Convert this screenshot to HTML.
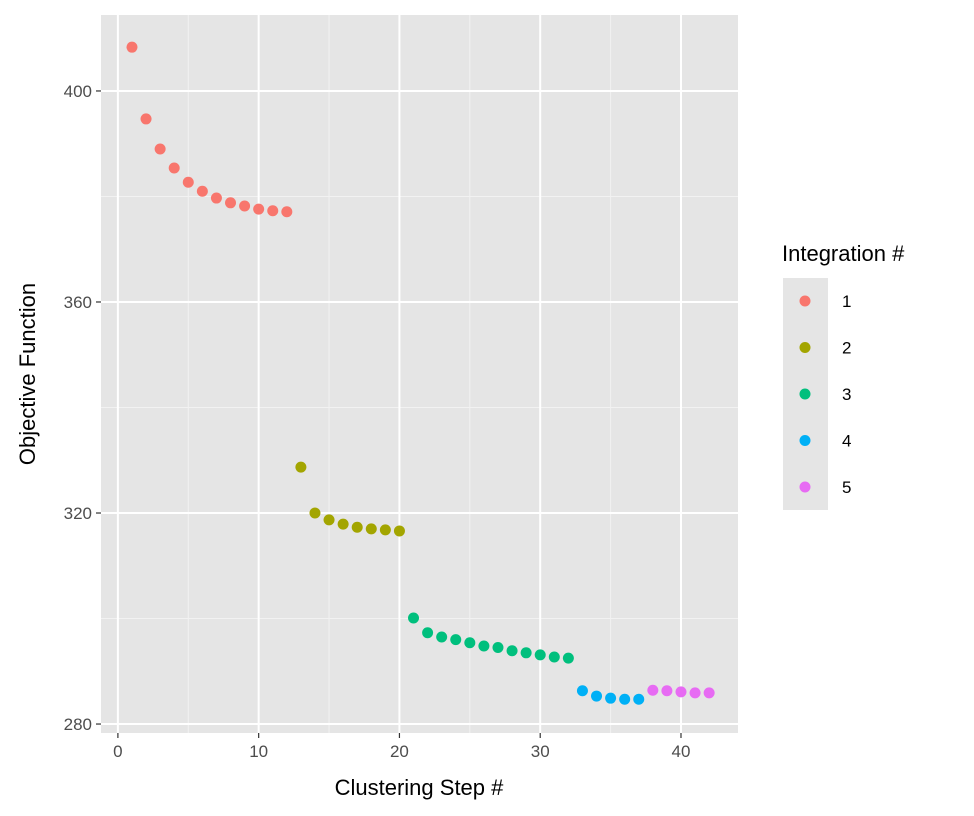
<!DOCTYPE html>
<html><head><meta charset="utf-8"><style>
body{margin:0;background:#fff;}
svg{display:block;font-family:"Liberation Sans",Arial,sans-serif;}
</style></head><body>
<svg id="chart" width="974" height="816" viewBox="0 0 974 816">
<rect x="101" y="15" width="637" height="718" fill="#e5e5e5"/>
<g id="grid"></g>
<g id="points"></g>
<g id="axes"></g>
<text x="419" y="795" font-size="22" text-anchor="middle" fill="#000">Clustering Step #</text>
<text transform="translate(35,374) rotate(-90)" font-size="22" text-anchor="middle" fill="#000">Objective Function</text>
<g id="legend">
<text x="782" y="261" font-size="22" fill="#000">Integration #</text>
<rect x="783" y="278" width="45" height="232" fill="#e5e5e5"/>
</g>
</svg>
<script>
const groups=[1,2,3,4,5];
const colors=["#F8766D","#A3A500","#00BF7D","#00B0F6","#E76BF3"];
const steps=[1,2,3,4,5,6,7,8,9,10,11,12,13,14,15,16,17,18,19,20,21,22,23,24,25,26,27,28,29,30,31,32,33,34,35,36,37,38,39,40,41,42];
const objective=[408.3,394.7,389.0,385.4,382.7,381.0,379.7,378.8,378.2,377.6,377.3,377.1,
328.7,320.0,318.7,317.9,317.3,317.0,316.8,316.6,
300.1,297.3,296.5,296.0,295.4,294.8,294.5,293.9,293.5,293.1,292.7,292.5,
286.3,285.3,284.9,284.7,284.7,
286.4,286.3,286.1,285.9,285.9];
const integration=[1,1,1,1,1,1,1,1,1,1,1,1,2,2,2,2,2,2,2,2,3,3,3,3,3,3,3,3,3,3,3,3,4,4,4,4,4,5,5,5,5,5];
const xTicks=[0,10,20,30,40];
const yTicks=[280,320,360,400];
const xMinor=[5,15,25,35];
const yMinor=[300,340,380];
const NS="http://www.w3.org/2000/svg";
const L=101,R=738,T=15,B=733;
const xmin=-1.2,xmax=44.05,ymin=278.3,ymax=414.4;
const sx=v=>L+(v-xmin)/(xmax-xmin)*(R-L);
const sy=v=>B-(v-ymin)/(ymax-ymin)*(B-T);
function mk(tag,attrs,parent){const e=document.createElementNS(NS,tag);for(const k in attrs)e.setAttribute(k,attrs[k]);parent.appendChild(e);return e;}
const grid=document.getElementById('grid'),pts=document.getElementById('points'),axes=document.getElementById('axes'),leg=document.getElementById('legend');
xMinor.forEach(v=>{const l=mk('line',{x1:sx(v),x2:sx(v),y1:T,y2:B,stroke:'#f2f2f2','stroke-width':1},grid);

});
yMinor.forEach(v=>{const l=mk('line',{x1:L,x2:R,y1:sy(v),y2:sy(v),stroke:'#f2f2f2','stroke-width':1},grid);

});
xTicks.forEach(v=>{const l=mk('line',{x1:sx(v),x2:sx(v),y1:T,y2:B,stroke:'#fff','stroke-width':2},grid);


const t=mk('line',{x1:sx(v),x2:sx(v),y1:B,y2:B+5,stroke:'#333','stroke-width':1.2},axes);


const tx=mk('text',{x:sx(v),y:B+24,'font-size':17,'text-anchor':'middle',fill:'#4d4d4d'},axes);tx.textContent=v;

});
yTicks.forEach(v=>{const l=mk('line',{x1:L,x2:R,y1:sy(v),y2:sy(v),stroke:'#fff','stroke-width':2},grid);


const t=mk('line',{x1:L-5,x2:L,y1:sy(v),y2:sy(v),stroke:'#333','stroke-width':1.2},axes);


const tx=mk('text',{x:L-9,y:sy(v)+6,'font-size':17,'text-anchor':'end',fill:'#4d4d4d'},axes);tx.textContent=v;

});
steps.forEach((s,i)=>{const c=mk('circle',{cx:sx(s),cy:sy(objective[i]),r:5.5,fill:colors[integration[i]-1]},pts);

});
groups.forEach((g,i)=>{const y=301+i*46.5;
const c=mk('circle',{cx:805,cy:y,r:5.5,fill:colors[i]},leg);


const t=mk('text',{x:842,y:y+6,'font-size':17,fill:'#000'},leg);t.textContent=g;

});
</script>
</body></html>
